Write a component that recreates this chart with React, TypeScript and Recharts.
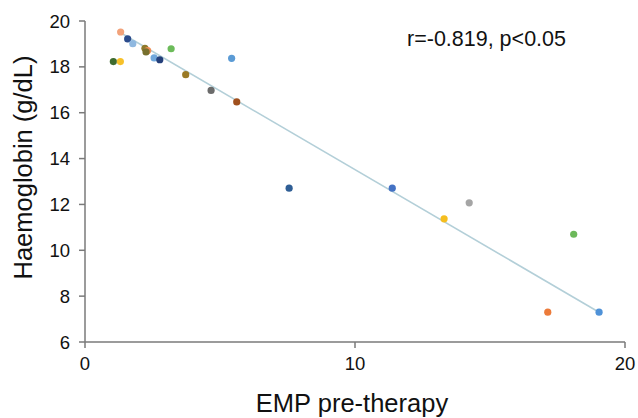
import React from 'react';
import { ScatterChart, Scatter, XAxis, YAxis, ReferenceLine, Label } from 'recharts';

const empValues = [1.32, 1.58, 1.77, 2.22, 2.32, 2.26, 3.19, 1.05, 1.31, 2.56, 2.77, 5.43, 3.73, 4.67, 5.62, 7.56, 11.38, 13.3, 14.23, 18.1, 17.14, 19.04];
const hbValues = [19.52, 19.22, 19.01, 18.81, 18.71, 18.65, 18.79, 18.23, 18.23, 18.39, 18.31, 18.37, 17.66, 16.97, 16.47, 12.71, 12.71, 11.37, 12.07, 10.7, 7.3, 7.3];
const pointColors = ['#F2A27A', '#2A4B8C', '#8FB8E0', '#8E7A2C', '#EE8D55', '#77702E', '#6CBB5A', '#3E6B2E', '#F7C12A', '#6FA7DB', '#243F7A', '#5B9BD5', '#9A7A26', '#6B6B6B', '#A0501E', '#2F5E95', '#4472C4', '#F5BE1F', '#A5A5A5', '#6CB85A', '#EC7B3A', '#4F92D8'];

const xTicks = [0, 10, 20];
const yTicks = [6, 8, 10, 12, 14, 16, 18, 20];
const trendStart = { x: 1.3, y: 19.5 };
const trendEnd = { x: 19.04, y: 7.3 };

const xTitle = 'EMP pre-therapy';
const yTitle = 'Haemoglobin (g/dL)';
const annotation = 'r=-0.819, p<0.05';

const data = empValues.map((x, i) => ({ x, y: hbValues[i], color: pointColors[i] }));

const FONT = '"Liberation Sans", Arial, Helvetica, sans-serif';
const AXIS = '#7a7a7a';

const Dot = (props: any) => {
  const { cx, cy, payload } = props;
  if (cx == null || cy == null) return null;
  return <circle cx={cx} cy={cy} r={3.6} fill={payload.color} />;
};

export default function App() {
  return (
    <div style={{ position: 'absolute', left: 0, top: 0, width: 638, height: 418, background: '#fff', fontFamily: FONT }}>
      <ScatterChart width={638} height={418} margin={{ top: 21, right: 13, bottom: 0, left: 0 }}>
        <XAxis
          type="number"
          dataKey="x"
          domain={[0, 20]}
          ticks={xTicks}
          height={76}
          axisLine={{ stroke: AXIS, strokeWidth: 1.5 }}
          tickLine={{ stroke: AXIS, strokeWidth: 1.5 }}
          tickSize={6}
          tickMargin={9}
          tick={{ fill: '#111', fontSize: 18.5, fontFamily: FONT }}
        >
          <Label
            content={(p: any) => {
              const vb = p.viewBox;
              return (
                <text x={vb.x + vb.width / 2 - 3} y={vb.y + 70} textAnchor="middle" fill="#111" fontSize={25.5} fontFamily={FONT}>
                  {xTitle}
                </text>
              );
            }}
          />
        </XAxis>
        <YAxis
          type="number"
          dataKey="y"
          domain={[6, 20]}
          ticks={yTicks}
          width={85}
          axisLine={{ stroke: AXIS, strokeWidth: 1.5 }}
          tickLine={{ stroke: AXIS, strokeWidth: 1.5 }}
          tickSize={6}
          tickMargin={9}
          tick={{ fill: '#111', fontSize: 18.5, fontFamily: FONT }}
        >
          <Label
            content={(p: any) => {
              const vb = p.viewBox;
              const cx = 32;
              const cy = vb.y + vb.height / 2 - 14;
              return (
                <text x={cx} y={cy} transform={`rotate(-90 ${cx} ${cy})`} textAnchor="middle" fill="#111" fontSize={25.5} fontFamily={FONT}>
                  {yTitle}
                </text>
              );
            }}
          />
        </YAxis>
        <ReferenceLine segment={[trendStart, trendEnd]} stroke="#B3CFD8" strokeWidth={1.6} ifOverflow="extendDomain" />
        <Scatter data={data} shape={<Dot />} isAnimationActive={false} />
      </ScatterChart>
      <svg width={638} height={418} style={{ position: 'absolute', left: 0, top: 0, pointerEvents: 'none' }}>
        <text x={407} y={46} fontSize={21.5} fill="#111" fontFamily={FONT}>
          {annotation}
        </text>
      </svg>
    </div>
  );
}
